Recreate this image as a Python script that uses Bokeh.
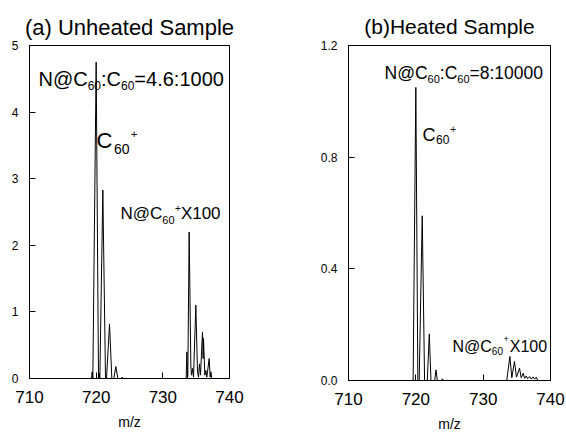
from bokeh.plotting import figure
from bokeh.layouts import row
from bokeh.models import Label, FixedTicker, PrintfTickFormatter, Range1d, LinearAxis
from bokeh.embed import file_html
from bokeh.resources import INLINE

# ---------------- data ----------------
x_ticks = [710, 720, 730, 740]
y_ticks_a = [0, 1, 2, 3, 4, 5]
y_ticks_b = [0.0, 0.4, 0.8, 1.2]

# (a) unheated sample: m/z profile and intensity
mz_a = [710.0, 719.3, 719.4, 719.5, 720.0, 720.35, 720.45, 720.55, 721.0, 721.4,
        721.55, 722.0, 722.35, 722.65, 722.95, 723.25, 723.75, 723.9, 724.05, 733.5,
        733.6, 733.7, 733.75, 733.95, 734.2, 734.3, 734.45, 734.6, 734.95, 735.2,
        735.35, 735.5, 735.65, 735.95, 736.05, 736.1, 736.3, 736.45, 736.6, 736.95,
        737.1, 737.2, 737.35]
int_a = [0, 0, 0.1, 0, 4.75, 0, 0.08, 0, 2.83, 0,
         0, 0.82, 0, 0, 0.18, 0, 0, 0.02, 0, 0,
         0.4, 0, 0.05, 2.2, 0.2, 0.05, 0.15, 0.02, 1.1, 0.1,
         0.02, 0.22, 0.05, 0.7, 0.3, 0.6, 0.05, 0.12, 0.02, 0.3,
         0.02, 0.1, 0]

# (b) heated sample
mz_b = [710.0, 719.6, 720.0, 720.3, 720.5, 720.95, 721.3, 721.7, 722.0, 722.25,
        722.8, 723.0, 723.2, 723.8, 723.95, 724.1, 733.5, 733.97, 734.25, 734.65,
        734.95, 735.4, 735.65, 735.95, 736.15, 736.4, 736.6, 736.9, 737.15, 737.4,
        737.65, 737.9, 738.1]
int_b = [0, 0, 1.05, 0, 0, 0.59, 0, 0, 0.167, 0,
         0, 0.038, 0, 0, 0.006, 0, 0, 0.086, 0.01, 0.068,
         0.012, 0.044, 0.01, 0.026, 0.008, 0.016, 0.006, 0.014, 0.005, 0.013,
         0.005, 0.012, 0]

FONT = "Liberation Sans"
ADV = {"N": 722, "@": 1015, "C": 722, ":": 278, "=": 584, ".": 278, "+": 584,
       " ": 278, "X": 667}


def text_width(s, size):
    return sum(ADV.get(ch, 556) for ch in s) * size / 1000.0


def add_text(p, geo, x_px, base_px, pieces):
    fl, fb, ppx, ppy, x0, y0 = geo
    cur = x_px
    for txt, size, dy, gap in pieces:
        cur += gap
        p.add_layout(Label(x=x0 + (cur - fl) / ppx,
                           y=y0 + (fb - (base_px + dy)) / ppy,
                           text=txt, text_font=FONT, text_font_size=f"{size}px",
                           text_baseline="alphabetic", text_align="left",
                           text_color="black"))
        cur += text_width(txt, size)


def style_axis(ax, ticks):
    ax.ticker = FixedTicker(ticks=ticks)
    ax.major_tick_out = 0
    ax.minor_tick_in = 0
    ax.minor_tick_out = 0
    ax.axis_line_color = "black"
    ax.axis_line_width = 1
    ax.major_tick_line_color = "black"
    ax.major_label_text_font = FONT
    ax.major_label_text_color = "black"


def make_fig(title, tsize, tstandoff, ymax, yticks, yfmt, fw, fh, bl, br, bt, bb):
    p = figure(frame_width=fw, frame_height=fh,
               x_range=Range1d(710, 740), y_range=Range1d(0, ymax),
               output_backend="svg", toolbar_location=None,
               min_border_left=bl, min_border_right=br,
               min_border_top=bt, min_border_bottom=bb)
    p.title.text = title
    p.title.text_font = FONT
    p.title.text_font_size = f"{tsize}px"
    p.title.text_font_style = "normal"
    p.title.text_color = "black"
    p.title.align = "center"
    p.title.standoff = tstandoff
    p.grid.visible = False
    p.outline_line_color = "black"
    p.background_fill_color = "white"
    p.border_fill_color = "white"

    xa = p.xaxis[0]
    style_axis(xa, x_ticks)
    xa.major_tick_in = 6
    xa.major_label_text_font_size = "17px"
    xa.major_label_standoff = 12
    xa.axis_label = "m/z"
    xa.axis_label_text_font = FONT
    xa.axis_label_text_font_size = "14px"
    xa.axis_label_text_font_style = "normal"
    xa.axis_label_text_color = "black"
    xa.axis_label_standoff = 8

    ya = p.yaxis[0]
    style_axis(ya, yticks)
    ya.formatter = PrintfTickFormatter(format=yfmt)
    ya.major_tick_in = 6
    ya.major_label_text_font_size = "12px"
    ya.major_label_standoff = 11

    # closing frame lines on top and right: axes with invisible ticks/labels
    top = LinearAxis()
    style_axis(top, [x_ticks[0], x_ticks[-1]])
    top.major_tick_in = 0
    top.major_label_text_alpha = 0
    top.major_label_text_font_size = "1px"
    top.major_label_standoff = 0
    p.add_layout(top, "above")
    right = LinearAxis()
    style_axis(right, [yticks[0], yticks[-1]])
    right.major_tick_in = 0
    right.major_label_text_alpha = 0
    right.major_label_text_font_size = "1px"
    right.major_label_standoff = 0
    p.add_layout(right, "right")
    return p


# ---------------- panel (a) ----------------
pa = make_fig("(a) Unheated Sample", 22, 12, 5, y_ticks_a, "%d",
              200, 333, 29, 54, 45, 56)
pa.line(mz_a, int_a, line_color="black", line_width=1)
geo_a = (29, 378, 200 / 30, 333 / 5, 710, 0)
add_text(pa, geo_a, 38, 78, [("N@C", 20, 0, 0), ("60", 12, 7, 0), (":C", 20, 0, 0),
                             ("60", 12, 7, 0), ("=4.6:1000", 20, 0, 0)])
add_text(pa, geo_a, 96, 140, [("C", 22, 0, 0), ("60", 14, 8, 1.5), ("+", 11, -7, 1.5)])
add_text(pa, geo_a, 120, 213, [("N@C", 17, 0, 0), ("60", 11, 6, 0), ("+", 10, -6, 0.5),
                               (" X100", 17, 0, 0)])

# ---------------- panel (b) ----------------
pb = make_fig("(b)Heated Sample", 21, 16, 1.2, y_ticks_b, "%.1f",
              202, 335, 65, 16, 44, 55)
pb.line(mz_b, int_b, line_color="black", line_width=1)
geo_b = (348, 379, 202 / 30, 335 / 1.2, 710, 0)
add_text(pb, geo_b, 384, 71, [("N@C", 17.5, 0, 0), ("60", 11, 6, 0), (":C", 17.5, 0, 0),
                              ("60", 11, 6, 0), ("=8:10000", 17.5, 0, 0)])
add_text(pb, geo_b, 422, 133, [("C", 18, 0, 0), ("60", 12, 5, 0.5), ("+", 10, -6, 1)])
add_text(pb, geo_b, 452, 345, [("N@C", 16, 0, 0), ("60", 10, 4, 0), ("+", 9, -8, 0.5),
                               ("X100", 16, 0, 1)])

layout = row(pa, pb)
open("out.html", "w").write(file_html(layout, INLINE))
